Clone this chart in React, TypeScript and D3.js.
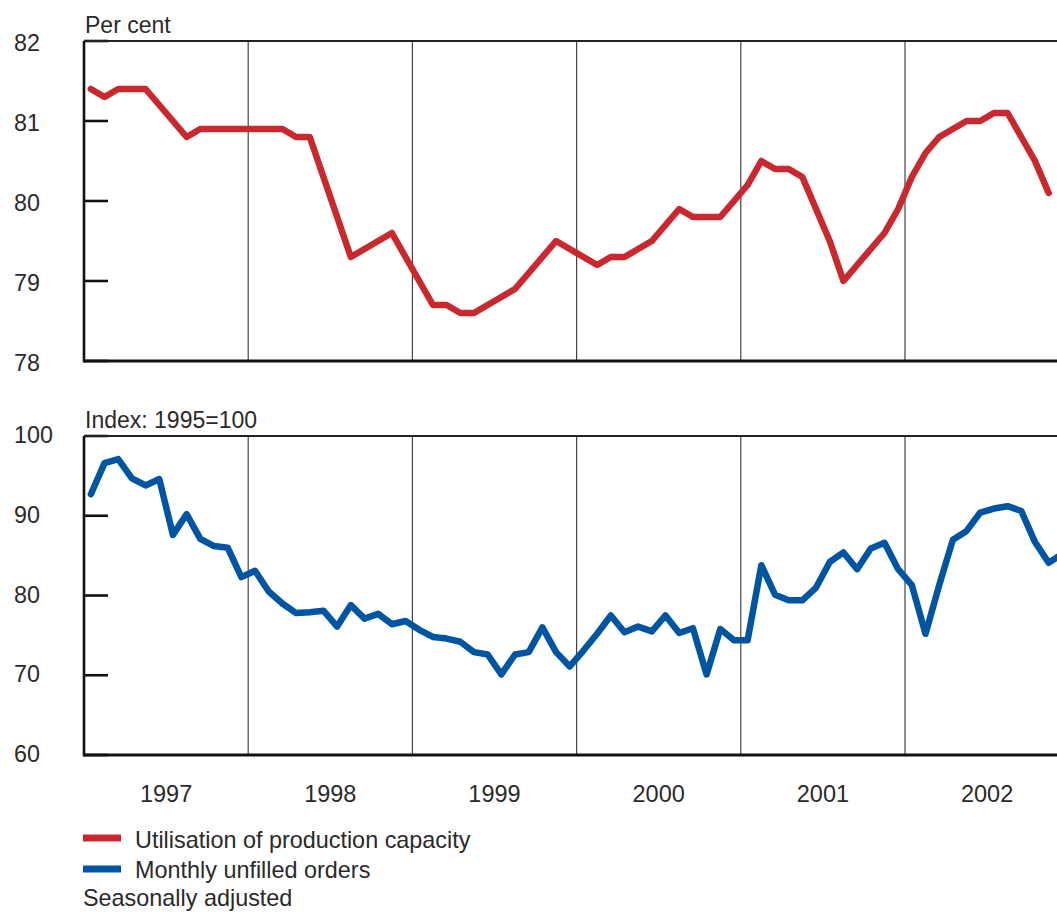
import React from "react";
import * as d3 from "d3";

const years = ["1997", "1998", "1999", "2000", "2001", "2002"];

// Monthly values, Jan 1997 onwards
const capacityUtilisation = [
  81.4, 81.3, 81.4, 81.4, 81.4, 81.2, 81.0, 80.8, 80.9, 80.9, 80.9, 80.9,
  80.9, 80.9, 80.9, 80.8, 80.8, 80.3, 79.8, 79.3, 79.4, 79.5, 79.6, 79.3,
  79.0, 78.7, 78.7, 78.6, 78.6, 78.7, 78.8, 78.9, 79.1, 79.3, 79.5, 79.4,
  79.3, 79.2, 79.3, 79.3, 79.4, 79.5, 79.7, 79.9, 79.8, 79.8, 79.8, 80.0,
  80.2, 80.5, 80.4, 80.4, 80.3, 79.9, 79.5, 79.0, 79.2, 79.4, 79.6, 79.9,
  80.3, 80.6, 80.8, 80.9, 81.0, 81.0, 81.1, 81.1, 80.8, 80.5, 80.1,
];

const unfilledOrders = [
  92.7, 96.6, 97.1, 94.7, 93.8, 94.6, 87.6, 90.2, 87.1, 86.2, 86.0, 82.3,
  83.1, 80.5, 79.0, 77.8, 77.9, 78.1, 76.1, 78.8, 77.1, 77.7, 76.4, 76.8,
  75.7, 74.8, 74.6, 74.2, 72.9, 72.6, 70.1, 72.6, 72.9, 76.0, 72.9, 71.1,
  73.1, 75.2, 77.5, 75.4, 76.1, 75.5, 77.5, 75.3, 75.9, 70.1, 75.8, 74.4,
  74.4, 83.8, 80.1, 79.4, 79.4, 81.0, 84.2, 85.4, 83.3, 85.9, 86.6, 83.3,
  81.3, 75.2, 81.3, 87.0, 88.1, 90.4, 90.9, 91.2, 90.6, 86.7, 84.1, 85.2,
];

const topTicks = [82, 81, 80, 79, 78];
const bottomTicks = [100, 90, 80, 70, 60];

const W = 1057;
const H = 912;
const LEFT = 84;
const RIGHT = 1057;
const FONT = "'Liberation Sans', Arial, Helvetica, sans-serif";
const TEXT = "#2a2a2a";
const RED = "#c9282e";
const BLUE = "#0055a2";

const x = d3.scaleLinear().domain([0, 72]).range([LEFT, LEFT + 6 * 164.2]);

function Panel({
  top,
  bottom,
  domain,
  ticks,
  values,
  color,
  title,
  labelDy,
  clipId,
}: {
  top: number;
  bottom: number;
  domain: [number, number];
  ticks: number[];
  values: number[];
  color: string;
  title: string;
  labelDy: number;
  clipId: string;
}) {
  const y = d3.scaleLinear().domain(domain).range([bottom, top]);
  const line = d3
    .line<number>()
    .x((_, i) => x(i + 0.5))
    .y((d) => y(d));
  return (
    <g>
      <defs>
        <clipPath id={clipId}>
          <rect x={LEFT} y={top - 10} width={RIGHT - LEFT} height={bottom - top + 20} />
        </clipPath>
      </defs>
      <text x={85} y={top - 8} fontFamily={FONT} fontSize={23} fill={TEXT}>
        {title}
      </text>
      {years.slice(1).map((_, k) => (
        <line
          key={k}
          x1={x((k + 1) * 12)}
          x2={x((k + 1) * 12)}
          y1={top}
          y2={bottom}
          stroke="#444"
          strokeWidth={1.2}
        />
      ))}
      {ticks.map((t) => (
        <g key={t}>
          <text x={14} y={y(t) + labelDy} fontFamily={FONT} fontSize={23.3} fill={TEXT}>
            {t}
          </text>
          <line x1={LEFT} x2={108} y1={y(t)} y2={y(t)} stroke="#111" strokeWidth={2.6} />
        </g>
      ))}
      <line x1={LEFT} x2={RIGHT} y1={top} y2={top} stroke="#222" strokeWidth={2} />
      <line x1={LEFT} x2={RIGHT} y1={bottom} y2={bottom} stroke="#111" strokeWidth={3} />
      <line x1={LEFT} x2={LEFT} y1={top} y2={bottom + 1.5} stroke="#111" strokeWidth={2.6} />
      <path
        d={line(values) || ""}
        fill="none"
        stroke={color}
        strokeWidth={6.5}
        strokeLinejoin="round"
        strokeLinecap="round"
        clipPath={`url(#${clipId})`}
      />
    </g>
  );
}

export default function App() {
  return (
    <svg
      width={W}
      height={H}
      viewBox={`0 0 ${W} ${H}`}
      style={{ position: "absolute", left: 0, top: 0, background: "#fff" }}
    >
      <rect x={0} y={0} width={W} height={H} fill="#fff" />
      <Panel
        top={41}
        bottom={361}
        domain={[78, 82]}
        ticks={topTicks}
        values={capacityUtilisation}
        color={RED}
        title="Per cent"
        labelDy={10}
        clipId="clipTop"
      />
      <Panel
        top={436}
        bottom={755}
        domain={[60, 100]}
        ticks={bottomTicks}
        values={unfilledOrders}
        color={BLUE}
        title="Index: 1995=100"
        labelDy={7}
        clipId="clipBottom"
      />
      {years.map((yr, k) => (
        <text
          key={yr}
          x={x(k * 12 + 6)}
          y={802}
          textAnchor="middle"
          fontFamily={FONT}
          fontSize={23.5}
          fill={TEXT}
        >
          {yr}
        </text>
      ))}
      <line x1={83} x2={121} y1={838} y2={838} stroke={RED} strokeWidth={7} />
      <text x={135} y={848} fontFamily={FONT} fontSize={23.4} fill={TEXT}>
        Utilisation of production capacity
      </text>
      <line x1={83} x2={121} y1={869} y2={869} stroke={BLUE} strokeWidth={7} />
      <text x={135} y={878} fontFamily={FONT} fontSize={23.4} fill={TEXT}>
        Monthly unfilled orders
      </text>
      <text x={83} y={906} fontFamily={FONT} fontSize={23.4} fill={TEXT}>
        Seasonally adjusted
      </text>
    </svg>
  );
}
